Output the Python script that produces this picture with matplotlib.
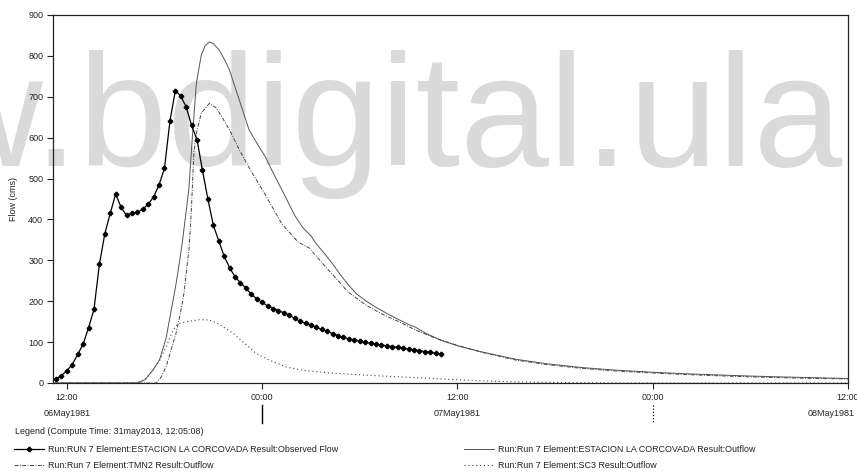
import matplotlib
matplotlib.use("Agg")
import matplotlib.pyplot as plt
from matplotlib.transforms import blended_transform_factory

plt.rcParams['font.family'] = ['Liberation Sans', 'DejaVu Sans']

# ---------------- data (hours after 06May1981 12:00) ----------------
obs_t = [-0.667, -0.333, 0.0, 0.333, 0.667, 1.0, 1.333, 1.667, 2.0, 2.333, 2.667, 3.0,
         3.333, 3.667, 4.0, 4.333, 4.667, 5.0, 5.333, 5.667, 6.0, 6.333, 6.667, 7.0,
         7.333, 7.667, 8.0, 8.333, 8.667, 9.0, 9.333, 9.667, 10.0, 10.333, 10.667, 11.0,
         11.333, 11.667, 12.0, 12.333, 12.667, 13.0, 13.333, 13.667, 14.0, 14.333, 14.667, 15.0,
         15.333, 15.667, 16.0, 16.333, 16.667, 17.0, 17.333, 17.667, 18.0, 18.333, 18.667, 19.0,
         19.333, 19.667, 20.0, 20.333, 20.667, 21.0, 21.333, 21.667, 22.0, 22.333, 22.667, 23.0]
obs_q = [10, 18, 30, 45, 70, 95, 135, 180, 290, 365, 415, 462,
         430, 410, 415, 418, 425, 437, 455, 485, 525, 640, 715, 702,
         675, 630, 595, 520, 450, 386, 348, 310, 282, 260, 245, 232,
         217, 206, 197, 189, 182, 177, 172, 166, 158, 151, 146, 141,
         136, 131, 126, 121, 116, 112, 108, 105, 102, 100, 97, 95,
         93, 91, 89, 87, 85, 83, 81, 79, 77, 75, 73, 71]

corc_t = [-0.85, 4.3, 4.8, 5.3, 5.7, 6.1, 6.4, 6.7, 6.9, 7.1, 7.3, 7.5, 7.7, 7.96, 8.26, 8.5,
          8.76, 9.0, 9.37, 9.7, 10.0, 10.3, 10.6, 10.9, 11.2, 11.7, 12.2, 12.6, 13.0, 13.5,
          14.0, 14.5, 15.0, 15.3, 15.8, 16.3, 16.8, 17.3, 17.8, 18.4, 19.0, 19.4, 20.0, 20.4,
          21.0, 21.4, 22.0, 23.0, 24.1, 25.5, 27.6, 29.5, 31.6, 33.5, 35.7, 37.8, 39.8, 42.0,
          43.8, 46.0, 48.0]
corc_q = [0, 0, 8, 32, 57, 110, 175, 240, 290, 345, 410, 475, 594, 733, 802, 825,
          834, 830, 814, 790, 765, 728, 692, 655, 619, 585, 553, 520, 489, 450,
          410, 380, 360, 342, 318, 293, 265, 240, 218, 200, 185, 176, 163, 155,
          143, 137, 123, 104, 90, 76, 58, 47, 38, 32, 27, 23, 20, 17,
          15, 13, 11]

tmn2_t = [-0.85, 5.5, 5.8, 6.1, 6.4, 6.7, 6.95, 7.2, 7.35, 7.5, 7.65, 7.8, 7.96, 8.26, 8.76,
          9.2, 10.0, 10.6, 11.4, 12.2, 13.2, 14.2, 14.9, 15.9, 17.3, 18.4, 19.4, 20.4, 21.4,
          22.5, 24.0, 25.5, 27.6, 29.5, 31.6, 33.5, 35.7, 37.8, 39.8, 42.0, 43.8, 46.0, 48.0]
tmn2_q = [0, 0, 15, 40, 80, 120, 165, 220, 275, 325, 420, 560, 611, 660, 684,
          672, 619, 570, 513, 460, 390, 345, 330, 284, 222, 190, 168, 150, 130,
          112, 92, 75, 56, 45, 36, 30, 25, 21, 18, 15, 13, 11, 10]

sc3_t = [-0.85, 4.3, 4.8, 5.3, 5.7, 6.1, 6.4, 6.7, 7.0, 7.5, 8.2, 8.76, 9.3, 9.7, 10.2,
         10.9, 11.6, 12.5, 13.5, 14.5, 16.3, 18.5, 20.4, 22.5, 24.5, 26.5, 28.5, 31.0, 34.0,
         40.0, 48.0]
sc3_q = [0, 0, 8, 32, 55, 88, 118, 140, 147, 151, 155, 154, 145, 135, 122,
         98, 73, 55, 39, 31, 24, 19, 15, 11, 7, 4, 2, 1, 0,
         0, 0]

x_ticks = [0, 12, 24, 36, 48]
x_ticklabels = ["12:00", "00:00", "12:00", "00:00", "12:00"]
date_pos = [0, 24, 48]
date_labels = ["06May1981", "07May1981", "08May1981"]
y_ticks = [0, 100, 200, 300, 400, 500, 600, 700, 800, 900]

lab_obs = "Run:RUN 7 Element:ESTACION LA CORCOVADA Result:Observed Flow"
lab_tmn2 = "Run:Run 7 Element:TMN2 Result:Outflow"
lab_corc = "Run:Run 7 Element:ESTACION LA CORCOVADA Result:Outflow"
lab_sc3 = "Run:Run 7 Element:SC3 Result:Outflow"

# ---------------- figure ----------------
W, H = 857, 476
fig = plt.figure(figsize=(W / 100, H / 100), dpi=100)
ax = fig.add_axes([53 / W, 1 - 383 / H, (848 - 53) / W, (383 - 15) / H])
ax.set_zorder(2)
ax.patch.set_alpha(0)

# watermark (behind everything)
fig.text(842 / W, 1 - 166 / H, "ww.bdigital.ula", fontsize=115, color="#dadada",
         ha="right", va="baseline", family="Liberation Sans", zorder=-5)

l_obs, = ax.plot(obs_t, obs_q, color="black", lw=0.9, marker="P", ms=3.0,
                 mec="black", mfc="black", label=lab_obs, zorder=5)
l_corc, = ax.plot(corc_t, corc_q, color="#555555", lw=0.7, ls="-", label=lab_corc, zorder=4)
l_tmn2, = ax.plot(tmn2_t, tmn2_q, color="#444444", lw=0.7, ls=(0, (4, 1.5, 1, 1.5)),
                  label=lab_tmn2, zorder=4)
l_sc3, = ax.plot(sc3_t, sc3_q, color="#444444", lw=0.8, ls=(0, (1, 2.5)), label=lab_sc3, zorder=4)

ax.set_xlim(-0.85, 48)
ax.set_ylim(0, 900)
ax.set_xticks(x_ticks)
ax.set_xticklabels(x_ticklabels)
ax.set_yticks(y_ticks)
ax.tick_params(axis="both", direction="out", length=4, width=0.8, labelsize=6.5,
               colors="#222222", pad=3)
for s in ax.spines.values():
    s.set_linewidth(0.9)
    s.set_color("#222222")
ax.set_ylabel("Flow (cms)", fontsize=6.5, color="#222222", labelpad=7)

trans = blended_transform_factory(ax.transData, ax.transAxes)
for p, lab in zip(date_pos, date_labels):
    ha = "center" if p < 48 else "right"
    xx = p if p < 48 else 48.4
    ax.text(xx, -0.084, lab, transform=trans, ha=ha, va="center", fontsize=6.5,
            color="#222222", clip_on=False)
ax.plot([12, 12], [-0.06, -0.108], transform=trans, color="black", lw=1.0, clip_on=False)
ax.plot([36, 36], [-0.06, -0.108], transform=trans, color="black", lw=0.9, ls=(0, (1, 1.5)),
        clip_on=False)

fig.text(15 / W, 1 - 432 / H, "Legend (Compute Time: 31may2013, 12:05:08)", fontsize=6.4,
         color="#222222", va="center", ha="left")

leg1 = fig.legend(handles=[l_obs, l_tmn2], loc="upper left",
                  bbox_to_anchor=(10 / W, 1 - 441 / H), frameon=False, fontsize=6.4,
                  handlelength=3.3, handletextpad=0.5, labelspacing=0.75, borderpad=0)
leg2 = fig.legend(handles=[l_corc, l_sc3], loc="upper left",
                  bbox_to_anchor=(460 / W, 1 - 441 / H), frameon=False, fontsize=6.4,
                  handlelength=3.3, handletextpad=0.5, labelspacing=0.75, borderpad=0)
for lg in (leg1, leg2):
    for t in lg.get_texts():
        t.set_color("#222222")

fig.savefig("out.png", dpi=100)
